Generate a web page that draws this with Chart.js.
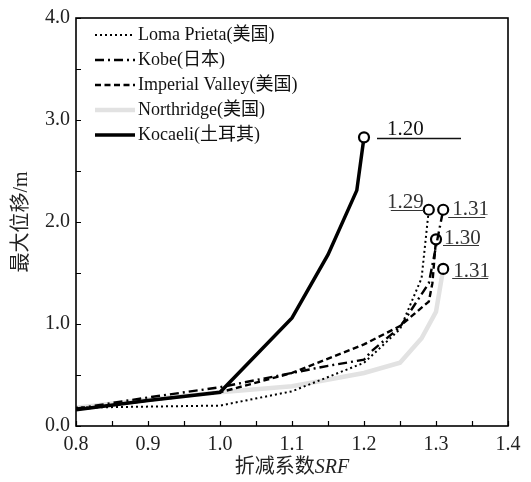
<!DOCTYPE html>
<html>
<head>
<meta charset="utf-8">
<script src="https://cdn.jsdelivr.net/npm/chart.js@4.4.1/dist/chart.umd.min.js"></script>
<style>
  body { margin: 0; background: #fff; }
</style>
</head>
<body>
<canvas id="srf_chart" width="531" height="482"></canvas>
<script>
// 各地震波下 折减系数 SRF - 最大位移
const lomaSRF = [0.8, 0.9, 1.0, 1.1, 1.2, 1.22, 1.25, 1.28, 1.29];
const lomaDisp = [0.18, 0.19, 0.20, 0.34, 0.62, 0.75, 0.95, 1.45, 2.12];

const kobeSRF = [0.8, 0.9, 1.0, 1.1, 1.15, 1.2, 1.21, 1.25, 1.29, 1.31];
const kobeDisp = [0.17, 0.28, 0.38, 0.52, 0.59, 0.65, 0.73, 0.97, 1.40, 2.12];

const imperialSRF = [0.8, 0.9, 1.0, 1.1, 1.2, 1.25, 1.29, 1.295, 1.30];
const imperialDisp = [0.16, 0.25, 0.33, 0.52, 0.80, 0.98, 1.22, 1.40, 1.83];

const northridgeSRF = [0.8, 0.9, 1.0, 1.1, 1.2, 1.25, 1.28, 1.30, 1.31];
const northridgeDisp = [0.18, 0.26, 0.33, 0.39, 0.52, 0.62, 0.86, 1.12, 1.54];

const kocaeliSRF = [0.8, 0.9, 1.0, 1.1, 1.15, 1.19, 1.20];
const kocaeliDisp = [0.16, 0.25, 0.33, 1.06, 1.68, 2.31, 2.83];

const seriesNames = ['Loma Prieta(美国)', 'Kobe(日本)', 'Imperial Valley(美国)', 'Northridge(美国)', 'Kocaeli(土耳其)'];

const xMajor = [0.8, 0.9, 1.0, 1.1, 1.2, 1.3, 1.4];
const yMajor = [0, 1, 2, 3, 4];

const serif = '"Liberation Serif", "Times New Roman", "Noto Sans CJK SC", serif';

const toPoints = (xs, ys) => xs.map((x, i) => ({ x: x, y: ys[i] }));

// only the last point gets the open circle
const endPoint = (ctx) => ctx.dataIndex === ctx.dataset.data.length - 1 ? 5 : 0;

// where the SRF value is written next to each end circle
const endLabelStyles = [
    { tx: -5, ty: -2, align: 'right', ux0: -38, ux1: -5, uy: 0, color: '#333', uw: 1 },
    { tx: 9, ty: 5, align: 'left', ux0: 5, ux1: 42, uy: 7, color: '#333', uw: 1 },
    { tx: 8, ty: 5, align: 'left', ux0: 7, ux1: 43, uy: 6, color: '#333', uw: 1 },
    { tx: 10, ty: 8, align: 'left', ux0: 9, ux1: 45, uy: 9, color: '#333', uw: 1 },
    { tx: 23, ty: -2, align: 'left', ux0: 13, ux1: 97, uy: 1, color: '#111', uw: 1.3 }
];

function lineSet(name, xs, ys, color, width, dash, order) {
    return {
        label: name,
        data: toPoints(xs, ys),
        borderColor: color,
        borderWidth: width,
        borderDash: dash,
        tension: 0,
        fill: false,
        order: order,
        pointRadius: endPoint,
        pointHoverRadius: endPoint,
        pointBackgroundColor: '#fff',
        pointBorderColor: '#000',
        pointBorderWidth: 2.2
    };
}

const framePlugin = {
    id: 'frame',
    afterDraw(chart) {
        const ctx = chart.ctx;
        const area = chart.chartArea;
        const xs = chart.scales.x;
        const ys = chart.scales.y;
        ctx.save();

        // inward tick marks
        ctx.strokeStyle = '#000';
        ctx.lineWidth = 1.2;
        ctx.setLineDash([]);
        ctx.beginPath();
        xs.ticks.forEach(t => {
            const px = Math.round(xs.getPixelForValue(t.value)) + 0.5;
            ctx.moveTo(px, area.bottom);
            ctx.lineTo(px, area.bottom - 5);
        });
        ys.ticks.forEach(t => {
            const py = Math.round(ys.getPixelForValue(t.value)) + 0.5;
            ctx.moveTo(area.left, py);
            ctx.lineTo(area.left + 5, py);
        });
        ctx.stroke();

        // box round the plot
        ctx.lineWidth = 1.6;
        ctx.strokeRect(area.left, area.top, area.right - area.left, area.bottom - area.top);

        // legend, top left inside the plot
        ctx.font = '18px ' + serif;
        ctx.textBaseline = 'middle';
        ctx.textAlign = 'left';
        chart.data.datasets.forEach((ds, i) => {
            const y = 35 + i * 25;
            ctx.beginPath();
            ctx.strokeStyle = ds.borderColor;
            ctx.lineWidth = ds.borderWidth;
            ctx.setLineDash(ds.borderDash || []);
            ctx.moveTo(95, y);
            ctx.lineTo(135, y);
            ctx.stroke();
            ctx.setLineDash([]);
            ctx.fillStyle = '#111';
            ctx.fillText(ds.label, 138, y);
        });

        // SRF values at the end circles
        ctx.font = '21px ' + serif;
        ctx.textBaseline = 'alphabetic';
        chart.data.datasets.forEach((ds, i) => {
            const last = ds.data[ds.data.length - 1];
            const cx = xs.getPixelForValue(last.x);
            const cy = ys.getPixelForValue(last.y);
            const s = endLabelStyles[i];
            ctx.fillStyle = s.color;
            ctx.textAlign = s.align;
            ctx.fillText(last.x.toFixed(2), cx + s.tx, cy + s.ty);
            ctx.beginPath();
            ctx.strokeStyle = s.color;
            ctx.lineWidth = s.uw;
            ctx.moveTo(cx + s.ux0, Math.round(cy + s.uy) + 0.5);
            ctx.lineTo(cx + s.ux1, Math.round(cy + s.uy) + 0.5);
            ctx.stroke();
        });

        // x axis title, SRF in italics
        const midX = (area.left + area.right) / 2;
        const cjk = '折减系数';
        const latin = 'SRF';
        ctx.fillStyle = '#222';
        ctx.textAlign = 'left';
        ctx.textBaseline = 'middle';
        ctx.font = '20px ' + serif;
        const w1 = ctx.measureText(cjk).width;
        ctx.font = 'italic 20px ' + serif;
        const w2 = ctx.measureText(latin).width;
        const startX = midX - (w1 + w2) / 2;
        ctx.font = '20px ' + serif;
        ctx.fillText(cjk, startX, 468);
        ctx.font = 'italic 20px ' + serif;
        ctx.fillText(latin, startX + w1, 468);

        ctx.restore();
    }
};

const srfElement = document.getElementById('srf_chart').getContext('2d');
const srfChart = new Chart(srfElement, {
    type: 'line',
    data: {
        datasets: [
            lineSet(seriesNames[0], lomaSRF, lomaDisp, '#000', 2, [2, 3], 1),
            lineSet(seriesNames[1], kobeSRF, kobeDisp, '#000', 2.4, [9, 4, 2, 4], 1),
            lineSet(seriesNames[2], imperialSRF, imperialDisp, '#000', 2.4, [6, 3.5], 1),
            lineSet(seriesNames[3], northridgeSRF, northridgeDisp, '#e2e2e2', 4.5, [], 3),
            lineSet(seriesNames[4], kocaeliSRF, kocaeliDisp, '#000', 3.5, [], 2)
        ]
    },
    options: {
        responsive: false,
        animation: false,
        layout: {
            padding: { left: 0, top: 13, right: 23, bottom: 0 }
        },
        plugins: {
            legend: { display: false },
            tooltip: { enabled: false }
        },
        scales: {
            x: {
                type: 'linear',
                min: 0.8,
                max: 1.4,
                grid: { display: false, drawTicks: false },
                border: { display: false },
                ticks: {
                    stepSize: 0.05,
                    padding: 7,
                    color: '#222',
                    maxRotation: 0,
                    autoSkip: false,
                    font: { family: serif, size: 20 },
                    callback: (v) => {
                        const m = xMajor.find(t => Math.abs(t - v) < 1e-6);
                        return m === undefined ? '' : m.toFixed(1);
                    }
                },
                afterFit: (scale) => { scale.height = 56; }
            },
            y: {
                type: 'linear',
                min: 0,
                max: 4,
                grid: { display: false, drawTicks: false },
                border: { display: false },
                title: {
                    display: true,
                    text: '最大位移/m',
                    color: '#222',
                    font: { family: serif, size: 20 },
                    padding: { top: 10, bottom: 0 }
                },
                ticks: {
                    stepSize: 0.5,
                    padding: 6,
                    color: '#222',
                    autoSkip: false,
                    font: { family: serif, size: 20 },
                    callback: (v) => {
                        const m = yMajor.find(t => Math.abs(t - v) < 1e-6);
                        return m === undefined ? '' : m.toFixed(1);
                    }
                },
                afterFit: (scale) => { scale.width = 76; }
            }
        }
    },
    plugins: [framePlugin]
});
</script>
</body>
</html>
